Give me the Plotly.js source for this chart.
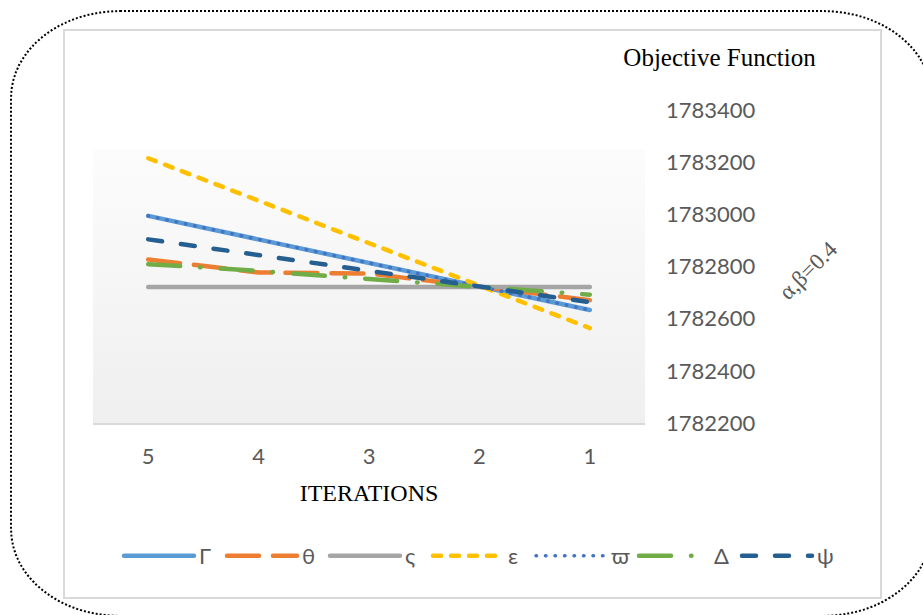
<!DOCTYPE html>
<html>
<head>
<meta charset="utf-8">
<script src="https://cdn.plot.ly/plotly-3.0.1.min.js"></script>
<style>
  html, body { margin: 0; padding: 0; overflow: hidden; background: #ffffff; }
  #plot { position: absolute; left: 0; top: 0; width: 923px; height: 615px; }
  #frame { position: absolute; left: 10px; top: 10px; width: 923px; height: 607px;
           box-sizing: border-box; border: 2.5px dotted #000; border-radius: 110px / 88px;
           pointer-events: none; }
  .js-line { stroke-linecap: round; }
</style>
</head>
<body>
<div id="plot"></div>
<div id="frame"></div>
<script>
// ---- data ----
const iterations = ['5', '4', '3', '2', '1'];
const gamma  = [1782994, 1782904, 1782814, 1782723, 1782633];
const theta  = [1782827, 1782777, 1782773, 1782722, 1782671];
const sigma  = [1782721, 1782721, 1782721, 1782721, 1782721];
const eps    = [1783215, 1783052, 1782890, 1782727, 1782564];
const varpi  = [1782994, 1782904, 1782814, 1782723, 1782633];
const delta  = [1782809, 1782783, 1782752, 1782721, 1782692];
const psi    = [1782904, 1782844, 1782784, 1782723, 1782663];
const seriesNames = ['Γ', 'θ', 'ς', 'ε', 'ϖ', 'Δ', 'ψ'];
const yTicks = [1782200, 1782400, 1782600, 1782800, 1783000, 1783200, 1783400];

// ---- layout geometry (pixels) ----
const W = 923, H = 615;
const PL = 93, PR = 645, PT = 110, PB = 423;
const px2x = p => (p - PL) / (PR - PL);
const px2y = p => (PB - p) / (PB - PT);

const styles = [
  {color: '#5B9BD5', width: 4.5, dash: 'solid'},
  {color: '#ED7D31', width: 4.5, dash: '32px,14px'},
  {color: '#A5A5A5', width: 4.5, dash: 'solid'},
  {color: '#FFC000', width: 4.5, dash: '8px,10px'},
  {color: '#4472C4', width: 3.5, dash: '0.5px,9px'},
  {color: '#70AD47', width: 4.5, dash: '32px,20px,0.5px,20px'},
  {color: '#255E91', width: 4.5, dash: '14px,19px'}
];
const values = [gamma, theta, sigma, eps, varpi, delta, psi];

const traces = values.map((v, i) => ({
  type: 'scatter', mode: 'lines',
  x: iterations, y: v, name: seriesNames[i],
  line: styles[i],
  hoverinfo: 'skip'
}));

const gradSvg = "<svg xmlns='http://www.w3.org/2000/svg' width='552' height='274' preserveAspectRatio='none'>" +
  "<defs><linearGradient id='g' x1='0' y1='0' x2='0' y2='1'>" +
  "<stop offset='0' stop-color='#FCFCFC'/><stop offset='1' stop-color='#EFEFEF'/>" +
  "</linearGradient></defs><rect width='552' height='274' fill='url(#g)'/></svg>";
const gradSrc = 'data:image/svg+xml;charset=utf-8,' + encodeURIComponent(gradSvg);

const tickFont = {family: 'Lato, "Open Sans", sans-serif', size: 22, color: '#595959'};
const serif = 'Liberation Serif, "Times New Roman", serif';

const layout = {
  width: W, height: H,
  margin: {l: PL, r: W - PR, t: PT, b: H - PB, pad: 0, autoexpand: false},
  paper_bgcolor: 'rgba(0,0,0,0)',
  plot_bgcolor: 'rgba(0,0,0,0)',
  showlegend: true,
  title: {
    text: 'Objective Function',
    font: {family: serif, size: 25, color: '#000000'},
    xref: 'container', x: 719.5 / W, xanchor: 'center',
    yref: 'container', y: 1 - 57 / H, yanchor: 'middle'
  },
  xaxis: {
    type: 'category',
    categoryorder: 'array', categoryarray: iterations,
    range: [-0.5, 4.5],
    showgrid: false, zeroline: false,
    showline: true, linecolor: '#D9D9D9', linewidth: 2,
    ticks: '', tickfont: tickFont, ticklabelstandoff: 13,
    title: {text: 'ITERATIONS', font: {family: serif, size: 24, color: '#000000'}, standoff: 16},
    fixedrange: true
  },
  yaxis: {
    side: 'right',
    range: [1782200, 1783400],
    tickvals: yTicks, ticktext: yTicks.map(String),
    showgrid: false, zeroline: false, showline: false,
    ticks: '', tickfont: tickFont, ticklabelstandoff: 20,
    fixedrange: true
  },
  legend: {
    orientation: 'h',
    xref: 'paper', x: px2x(840), xanchor: 'right',
    yref: 'paper', y: px2y(556), yanchor: 'middle',
    font: tickFont,
    bgcolor: 'rgba(0,0,0,0)',
    itemwidth: 70,
    entrywidth: 18, entrywidthmode: 'pixels',
    traceorder: 'normal'
  },
  images: [{
    source: gradSrc, xref: 'paper', yref: 'paper',
    x: 0, y: px2y(149), sizex: 1, sizey: px2y(149),
    xanchor: 'left', yanchor: 'top', sizing: 'stretch', layer: 'below'
  }],
  shapes: [{
    type: 'rect', xref: 'paper', yref: 'paper',
    x0: px2x(64), x1: px2x(881), y0: px2y(598), y1: px2y(30),
    line: {color: '#D9D9D9', width: 2}, fillcolor: 'rgba(0,0,0,0)', layer: 'below'
  }],
  annotations: [{
    text: 'α,β=0.4', xref: 'paper', yref: 'paper',
    x: px2x(808), y: px2y(270), xanchor: 'center', yanchor: 'middle',
    textangle: -45, showarrow: false,
    font: {family: serif, size: 23, color: '#595959'}
  }]
};

Plotly.newPlot('plot', traces, layout, {displayModeBar: false, staticPlot: true});
</script>
</body>
</html>
